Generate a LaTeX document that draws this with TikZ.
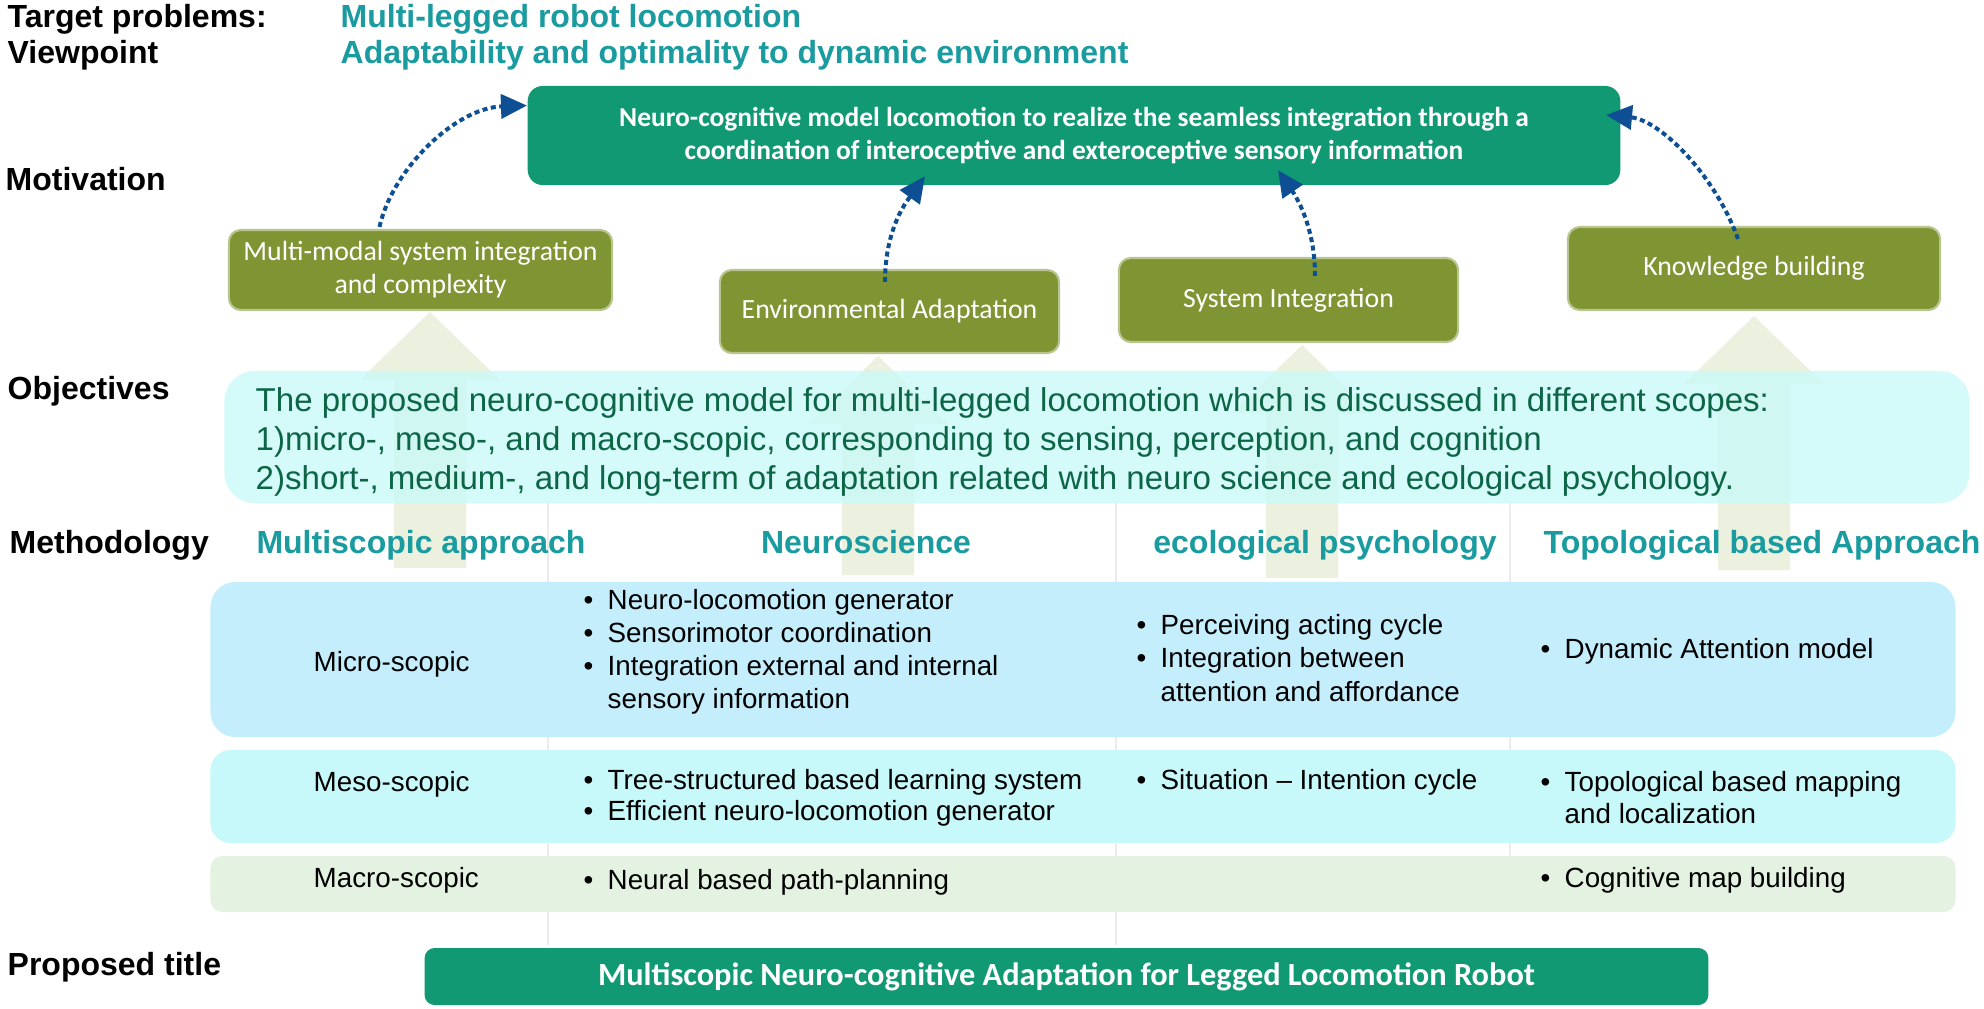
\documentclass[tikz,border=0pt]{standalone}
\usepackage{fontspec}
\setmainfont{Liberation Sans}
\newfontfamily\calfont{Carlito}
\usetikzlibrary{arrows.meta}
\definecolor{boxgreen}{RGB}{17,153,115}
\definecolor{olivegreen}{RGB}{127,149,52}
\definecolor{hdrteal}{RGB}{25,155,160}
\definecolor{objtext}{RGB}{12,102,70}
\definecolor{objfill}{RGB}{204,249,249}
\definecolor{arrowfill}{RGB}{235,241,222}
\definecolor{dotblue}{RGB}{14,78,146}
\definecolor{microfill}{RGB}{197,238,252}
\definecolor{mesofill}{RGB}{200,249,250}
\definecolor{macrofill}{RGB}{228,242,225}
\definecolor{gridgray}{RGB}{236,236,236}
\newcommand\bl{\makebox[0.24cm][l]{\textbullet}}
\newcommand\ind{\hspace*{0.24cm}}
\newcommand\bigarr[4]{%
  \fill[arrowfill] (#1,#2) -- ({#1+70},#3) -- ({#1+36},#3) -- ({#1+36},#4)
    -- ({#1-36},#4) -- ({#1-36},#3) -- ({#1-70},#3) -- cycle;}
\begin{document}
\begin{tikzpicture}[x=0.01cm,y=-0.01cm,
  lbl/.style={font=\fontsize{9.1pt}{11pt}\selectfont\bfseries, inner sep=0, anchor=base west},
  hdr/.style={font=\fontsize{9.1pt}{11pt}\selectfont\bfseries, text=hdrteal, inner sep=0},
  topbox/.style={fill=boxgreen, rounded corners=0.15cm, text=white, align=center, inner sep=0,
    font=\calfont\bfseries\fontsize{7.8pt}{9.4pt}\selectfont},
  olivebox/.style={fill=olivegreen, draw=olivegreen!55!white, line width=0.6pt, rounded corners=0.12cm,
    text=white, align=center, inner sep=0, font=\calfont\fontsize{7.9pt}{9.4pt}\selectfont},
  rowbox/.style={rounded corners=0.25cm, inner sep=0, minimum width=17.44cm},
  cell/.style={anchor=west, align=left, inner sep=0, font=\fontsize{7.9pt}{9.4pt}\selectfont},
  dotarrow/.style={draw=dotblue, line width=0.04cm, dash pattern=on 0.05cm off 0.035cm,
    -{Triangle[length=0.26cm,width=0.24cm]}}]
\useasboundingbox (0,0) rectangle (1984,1008);
\fill[white] (0,0) rectangle (1984,1008);

% faint column lines
\draw[gridgray, line width=0.015cm] (548,503) -- (548,945);
\draw[gridgray, line width=0.015cm] (1116,503) -- (1116,945);
\draw[gridgray, line width=0.015cm] (1510,503) -- (1510,912);

% big light arrows
\bigarr{430}{312}{380}{568}
\bigarr{878}{356}{424}{575}
\bigarr{1302}{345}{413}{578}
\bigarr{1754}{316}{384}{570}

% left labels
\node[lbl] (ltp) at (7,27) {Target problems:};
\node[lbl] (lvp) at (7,63) {Viewpoint};
\node[lbl] (lmo) at (5,190) {Motivation};
\node[lbl] (lob) at (7,399) {Objectives};
\node[lbl] (lme) at (9,553) {Methodology};
\node[lbl] (lpt) at (7,975) {Proposed title};

\node[hdr, anchor=base west] (ttp) at (340,27) {Multi-legged robot locomotion};
\node[hdr, anchor=base west] (tvp) at (340,63) {Adaptability and optimality to dynamic environment};

% motivation boxes
\node[topbox, minimum width=10.92cm, minimum height=0.99cm] (top) at (1074,135.5)
  {Neuro-cognitive model locomotion to realize the seamless integration through a\\
   coordination of interoceptive and exteroceptive sensory information};
\node[olivebox, minimum width=3.83cm, minimum height=0.80cm] (b1) at (420.5,270)
  {Multi-modal system integration\\ and complexity};
\node[olivebox, minimum width=3.39cm, minimum height=0.83cm] (b2) at (889.5,311.5)
  {Environmental Adaptation};
\node[olivebox, minimum width=3.39cm, minimum height=0.84cm] (b3) at (1288.5,300)
  {System Integration};
\node[olivebox, minimum width=3.72cm, minimum height=0.83cm] (b4) at (1754,268.5)
  {Knowledge building};

% objectives
\node[fill=objfill, fill opacity=0.81, rounded corners=0.3cm, minimum width=17.44cm,
  minimum height=1.32cm, inner sep=0] (obj) at (1097,437) {};
\node[anchor=west, align=left, inner sep=0, text=objtext,
  font=\fontsize{9.4pt}{11.1pt}\selectfont] (objtxt) at (255,442)
  {The proposed neuro-cognitive model for multi-legged locomotion which is discussed in different scopes:\\
   1)micro-, meso-, and macro-scopic, corresponding to sensing, perception, and cognition\\
   2)short-, medium-, and long-term of adaptation related with neuro science and ecological psychology.};

% methodology headers
\node[hdr, anchor=base] (h1) at (421,553) {Multiscopic approach};
\node[hdr, anchor=base] (h2) at (866,553) {Neuroscience};
\node[hdr, anchor=base] (h3) at (1325,553) {ecological psychology};
\node[hdr, anchor=base] (h4) at (1762,553) {Topological based Approach};

% table rows
\node[rowbox, fill=microfill, minimum height=1.55cm] (rmicro) at (1083,659.5) {};
\node[rowbox, fill=mesofill, minimum height=0.93cm, rounded corners=0.2cm] (rmeso) at (1083,796.5) {};
\node[rowbox, fill=macrofill, minimum height=0.56cm, rounded corners=0.12cm] (rmacro) at (1083,884) {};

\node[cell] (lmicro) at (313,664) {Micro-scopic};
\node[cell] (lmeso) at (313,784) {Meso-scopic};
\node[cell] (lmacro) at (313,880) {Macro-scopic};

\node[cell] (c21) at (583,651.5) {\bl Neuro-locomotion generator\\ \bl Sensorimotor coordination\\
  \bl Integration external and internal\\ \ind sensory information};
\node[cell] (c31) at (1136,658) {\bl Perceiving acting cycle\\ \bl Integration between\\ \ind attention and affordance};
\node[cell] (c41) at (1540,651) {\bl Dynamic Attention model};

\node[cell, font=\fontsize{7.9pt}{8.9pt}\selectfont] (c22) at (583,797.5)
  {\bl Tree-structured based learning system\\ \bl Efficient neuro-locomotion generator};
\node[cell] (c32) at (1136,782) {\bl Situation -- Intention cycle};
\node[cell, font=\fontsize{7.9pt}{8.9pt}\selectfont] (c42) at (1540,797.5)
  {\bl Topological based mapping\\ \ind and localization};

\node[cell] (c23) at (583,882) {\bl Neural based path-planning};
\node[cell] (c43) at (1540,880) {\bl Cognitive map building};

% proposed title
\node[fill=boxgreen, rounded corners=0.1cm, minimum width=12.83cm, minimum height=0.57cm,
  inner sep=0, text=white, font=\calfont\bfseries\fontsize{9.2pt}{11pt}\selectfont] (title)
  at (1066.5,976.5) {Multiscopic Neuro-cognitive Adaptation for Legged Locomotion Robot};

% dotted arrows
\draw[dotarrow] ([shift={(-41,-2)}]b1.north) .. controls (392,170) and (455,108) .. ([shift={(0,-30)}]top.west);
\draw[dotarrow] ([shift={(-4.5,13)}]b2.north) .. controls (885,225) and (910,197) .. ([shift={(-149,-9.5)}]top.south);
\draw[dotarrow] ([shift={(26.5,19)}]b3.north) .. controls (1315,225) and (1295,195) .. ([shift={(204,-15.5)}]top.south);
\draw[dotarrow] ([shift={(-16,13)}]b4.north) .. controls (1715,175) and (1660,120) .. ([shift={(-15,-20.5)}]top.east);
\end{tikzpicture}
\end{document}
